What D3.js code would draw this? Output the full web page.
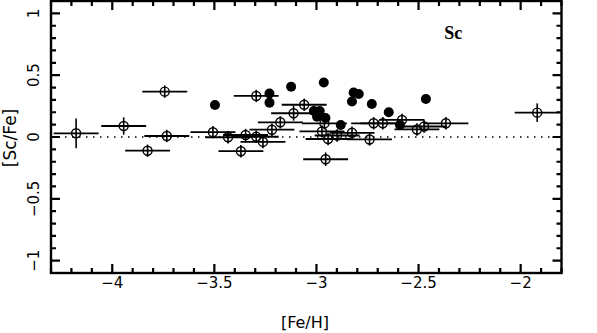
<!DOCTYPE html>
<html><head><meta charset="utf-8">
<script src="https://cdn.jsdelivr.net/npm/d3@7"></script>
<style>body{margin:0;background:#fff}svg{display:block}</style></head>
<body><svg id="c" width="597" height="333"></svg>
<script>
// open symbols with error bars
const openFeH  = [-4.177,-3.944,-3.743,-3.733,-3.827,-3.507,-3.433,-3.347,-3.295,-3.262,-3.370,-3.295,-3.218,-3.177,-3.112,-3.060,-2.973,-2.943,-2.899,-2.826,-2.740,-2.720,-2.675,-2.581,-2.508,-2.473,-2.366,-1.919,-2.955,-2.961];
const openScFe = [0.030,0.089,0.367,0.008,-0.111,0.039,-0.002,0.016,0.002,-0.040,-0.115,0.332,0.059,0.119,0.192,0.261,0.045,-0.016,0.012,0.034,-0.020,0.111,0.111,0.138,0.061,0.085,0.111,0.197,-0.180,0.110];
const openXerr = [0.11,0.11,0.11,0.11,0.11,0.11,0.11,0.11,0.11,0.11,0.11,0.11,0.11,0.11,0.11,0.11,0.11,0.11,0.11,0.11,0.11,0.11,0.11,0.11,0.11,0.11,0.11,0.11,0.11,0.11];
const openYerr = [0.12,0.07,0.05,0.05,0.05,0.05,0.05,0.05,0.05,0.05,0.05,0.05,0.05,0.05,0.06,0.05,0.05,0.05,0.05,0.05,0.05,0.05,0.05,0.05,0.05,0.05,0.05,0.075,0.055,0.05];
// filled symbols
const filledFeH  = [-3.497,-3.230,-3.230,-3.124,-2.964,-3.013,-2.984,-2.997,-2.956,-2.881,-2.818,-2.793,-2.826,-2.729,-2.646,-2.591,-2.464];
const filledScFe = [0.259,0.352,0.278,0.407,0.441,0.210,0.210,0.164,0.154,0.097,0.360,0.348,0.287,0.267,0.200,0.097,0.307];
const xTicks = [-4,-3.5,-3,-2.5,-2];
const yTicks = [-1,-0.5,0,0.5,1];
const xLabel = "[Fe/H]", yLabel = "[Sc/Fe]", panelLabel = "Sc";

const svg = d3.select("#c");
const L=51, R=561.5, T=1, B=273;
const x = d3.scaleLinear().domain([-4.3,-1.8]).range([L,R]);
const y = d3.scaleLinear().domain([-1.1,1.1]).range([B,T]);
const ink = "black";
const font = "DejaVu Sans, Verdana, sans-serif";
const fmt = v => (v<0?"\u2212":"") + String(Math.abs(v));
const minorX = d3.range(-43,-17).map(v=>v/10).filter(v=>!xTicks.some(t=>Math.abs(t-v)<1e-6));
const minorY = d3.range(-11,12).map(v=>v/10).filter(v=>!yTicks.some(t=>Math.abs(t-v)<1e-6));

// frame and ticks first (same approach as a plain test page)
svg.append("rect").attr("x",L).attr("y",T).attr("width",R-L).attr("height",B-T)
  .attr("fill","none").attr("stroke","black").attr("stroke-width",2.4);
const xt = xTicks.map(v=>({v,len:9})).concat(minorX.map(v=>({v,len:5})));
const yt = yTicks.map(v=>({v,len:9})).concat(minorY.map(v=>({v,len:5})));
let p = d3.path();
xt.forEach(d=>{ p.moveTo(x(d.v),B); p.lineTo(x(d.v),B-d.len); p.moveTo(x(d.v),T); p.lineTo(x(d.v),T+d.len); });
yt.forEach(d=>{ p.moveTo(L,y(d.v)); p.lineTo(L+d.len,y(d.v)); p.moveTo(R,y(d.v)); p.lineTo(R-d.len,y(d.v)); });
svg.append("path").attr("d",p.toString()).attr("fill","none").attr("stroke","black").attr("stroke-width",2.2);

// zero line
svg.append("line").attr("x1",L).attr("x2",R).attr("y1",y(0)).attr("y2",y(0))
  .attr("stroke",ink).attr("stroke-width",1.3).attr("stroke-dasharray","1.5,5.5");

// tick labels as plain text placed with the scales
svg.selectAll("text.xl").data(xTicks).join("text")
  .attr("x",d=>x(d)).attr("y",288).attr("text-anchor","middle")
  .attr("font-family",font).attr("font-size",15).attr("fill",ink).text(fmt);
svg.selectAll("text.yl").data(yTicks).join("text")
  .attr("transform",d=>`translate(39,${y(d)}) rotate(-90)`).attr("text-anchor","middle")
  .attr("font-family",font).attr("font-size",15).attr("fill",ink).text(fmt);

// points
const opens = openFeH.map((v,i)=>({x:v,y:openScFe[i],ex:openXerr[i],ey:openYerr[i]}));
const gp = svg.append("g");
const go = gp.selectAll("g.o").data(opens).join("g");
go.append("line").attr("x1",d=>Math.max(L,x(d.x-d.ex))).attr("x2",d=>Math.min(R,x(d.x+d.ex))).attr("y1",d=>y(d.y)).attr("y2",d=>y(d.y))
  .attr("stroke",ink).attr("stroke-width",1.8);
go.append("line").attr("x1",d=>x(d.x)).attr("x2",d=>x(d.x)).attr("y1",d=>y(d.y+d.ey)).attr("y2",d=>y(d.y-d.ey))
  .attr("stroke",ink).attr("stroke-width",1.6);
go.append("circle").attr("cx",d=>x(d.x)).attr("cy",d=>y(d.y)).attr("r",4.5)
  .attr("fill","none").attr("stroke",ink).attr("stroke-width",1.4);
gp.selectAll("circle.f").data(filledFeH.map((v,i)=>({x:v,y:filledScFe[i]}))).join("circle")
  .attr("cx",d=>x(d.x)).attr("cy",d=>y(d.y)).attr("r",5).attr("fill","black");

// labels
svg.append("text").attr("x",305).attr("y",328).attr("text-anchor","middle")
  .attr("font-family",font).attr("font-size",16).attr("fill",ink).text(xLabel);
svg.append("text").attr("transform",`translate(16,${y(0)+1}) rotate(-90)`).attr("text-anchor","middle")
  .attr("font-family",font).attr("font-size",17).attr("fill",ink).text(yLabel);
svg.append("text").attr("x",x(-2.33)).attr("y",39).attr("text-anchor","middle")
  .attr("font-family","Liberation Serif, serif").attr("font-weight","bold").attr("font-size",18).attr("fill",ink).text(panelLabel);
</script></body></html>
